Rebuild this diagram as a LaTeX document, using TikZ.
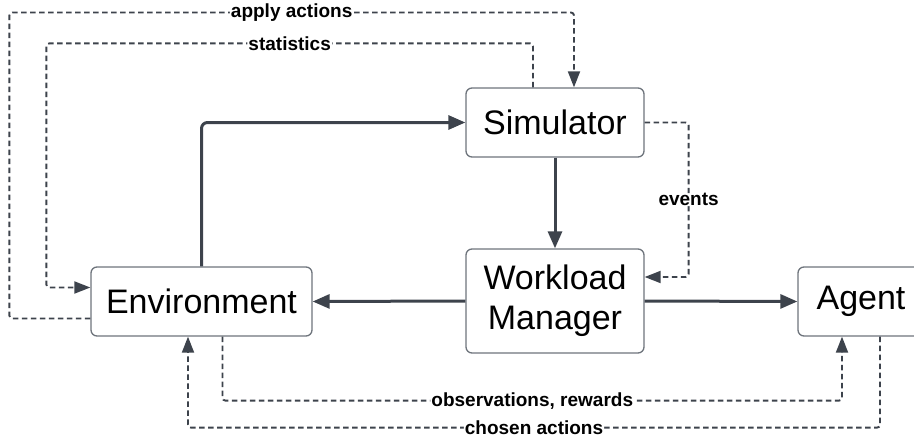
\documentclass[tikz,border=0pt]{standalone}
\usepackage{fontspec}
\setmainfont{Liberation Sans}
\usetikzlibrary{arrows.meta,positioning,calc}
\definecolor{linegray}{HTML}{3D434C}
\definecolor{boxgray}{HTML}{6E747C}
\tikzset{
  block/.style={
    draw=boxgray,
    line width=1.3pt,
    rounded corners=6pt,
    fill=white,
    inner sep=0pt,
    align=center,
    font=\fontsize{34}{40}\selectfont
  },
  flow/.style={-{Triangle[length=17pt,width=14pt]}, line width=3pt, draw=linegray, rounded corners=6pt},
  feedback/.style={-{Triangle[length=16pt,width=12pt]}, line width=1.9pt, draw=linegray,
    dash pattern=on 5.5pt off 3.5pt, rounded corners=3pt},
  lbl/.style={fill=white, inner xsep=1pt, inner ysep=0pt, font=\fontsize{19}{22}\selectfont\bfseries, text=black}
}

\begin{document}
\begin{tikzpicture}[x=1pt, y=-1pt]
  \useasboundingbox (0,0) rectangle (914,437);
  \node[block, minimum width=178pt, minimum height=69pt]  (sim)   at (555,122.5) {Simulator};
  \node[block, minimum width=221pt, minimum height=69pt]  (env)   at (201.5,301.5) {Environment};
  \node[block, minimum width=178pt, minimum height=104pt] (wm)    at (555,301) {Workload\\Manager};
  \node[block, minimum width=126pt, minimum height=69pt]  (agent) at (861,301.5) {Agent};
  % main flow
  \draw[flow] (env.north) |- (sim.west);
  \draw[flow] (sim.south) -- (wm.north);
  \draw[flow] (wm.west) -- (env.east);
  \draw[flow] (wm.east) -- (agent.west);
  % feedback loops
  \draw[feedback] ([yshift=-17pt]env.west) -- ++(-81,0) -- ++(0,-306)
    -| node[lbl, pos=0.25] {apply actions} ([xshift=19pt]sim.north);
  \draw[feedback] ([xshift=-22pt]sim.north) -- ++(0,-44)
    -| node[lbl, pos=0.25] {statistics} ([xshift=-44pt,yshift=14pt]env.west) -- ([yshift=14pt]env.west);
  \draw[feedback] (sim.east) -| node[lbl, pos=0.75] {events} ([xshift=44pt,yshift=24pt]wm.east) -- ([yshift=24pt]wm.east);
  \draw[feedback] ([xshift=21pt]env.south) -- ++(0,64)
    -| node[lbl, pos=0.25] {observations, rewards} ([xshift=-19pt]agent.south);
  \draw[feedback] ([xshift=19pt]agent.south) -- ++(0,91)
    -| node[lbl, pos=0.25] {chosen actions} ([xshift=-13.5pt]env.south);
\end{tikzpicture}
\end{document}
